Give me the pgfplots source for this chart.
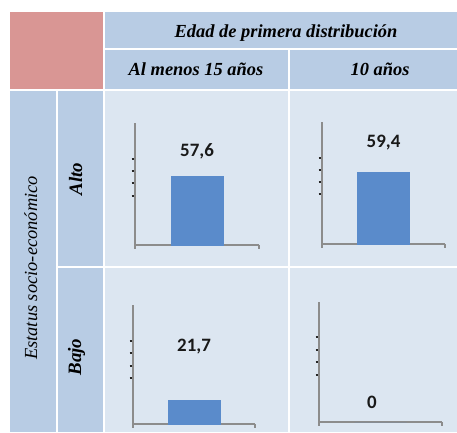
\documentclass[border=0pt]{standalone}
\usepackage{pgfplots}
\pgfplotsset{compat=1.18}
\usepackage{fontspec}
\setmainfont{Liberation Serif}
\newfontfamily\calibri{Carlito}
\definecolor{pinkc}{HTML}{D99694}
\definecolor{hdr}{HTML}{B8CCE4}
\definecolor{cellc}{HTML}{DCE6F1}
\definecolor{barc}{HTML}{5A8BCB}
\definecolor{axc}{HTML}{8C8C8C}
\tikzset{lbl/.style={font=\calibri\bfseries\fontsize{19}{22}\selectfont, text=black!90}}
\pgfplotsset{
  mini/.style={
    anchor=south west, scale only axis,
    xmin=0, xmax=1, ymin=0,
    axis lines=left,
    axis line style={axc, line width=1.5bp, -},
    xtick={0,1}, xticklabels={}, yticklabels={},
    xtick style={axc, line width=1.5bp},
    ytick style={black!85, line width=1.6bp},
    major tick length=3.5bp,
    tick align=outside,
    ybar, bar width=52bp, clip=false,
  },
}
\begin{document}
\begin{tikzpicture}[x=1bp,y=1bp]
\useasboundingbox (0,0) rectangle (457,432);
% table cells
\fill[pinkc] (10,432-12) rectangle (103,432-89);
\fill[hdr] (105,432-12) rectangle (457,432-48);
\fill[hdr] (105,432-50) rectangle (288,432-89);
\fill[hdr] (290,432-50) rectangle (457,432-89);
\fill[hdr] (10,432-91) rectangle (56,0);
\fill[hdr] (58,432-91) rectangle (103,432-266);
\fill[hdr] (58,432-268) rectangle (103,0);
\fill[cellc] (105,432-91) rectangle (288,432-266);
\fill[cellc] (290,432-91) rectangle (457,432-266);
\fill[cellc] (105,432-268) rectangle (288,0);
\fill[cellc] (290,432-268) rectangle (457,0);
% header texts
\node[anchor=base, font=\fontsize{18.5}{20}\selectfont\bfseries\itshape] at (286,432-38) {Edad de primera distribución};
\node[anchor=base, font=\fontsize{18.5}{20}\selectfont\bfseries\itshape] at (196,432-75) {Al menos 15 años};
\node[anchor=base, font=\fontsize{18.5}{20}\selectfont\bfseries\itshape] at (380,432-75) {10 años};
\node[anchor=base, rotate=90, font=\fontsize{18.5}{20}\selectfont\itshape] at (37,432-268) {Estatus socio-económico};
\node[anchor=base, rotate=90, font=\fontsize{19}{20}\selectfont\bfseries\itshape] at (82,432-179) {Alto};
\node[anchor=base, rotate=90, font=\fontsize{19}{20}\selectfont\bfseries\itshape] at (81,432-357) {Bajo};
% Alto, al menos 15
\begin{axis}[mini, at={(135bp,187bp)}, width=124bp, height=122bp, ymax=101.8,
  ytick={40.9,51.7,61.7,71.8}]
\addplot[fill=barc, draw=barc] coordinates {(0.5,57.6)};
\node[lbl] at (axis cs:0.5,78.4) {57,6};
\end{axis}
% Alto, 10
\begin{axis}[mini, at={(322bp,188bp)}, width=123bp, height=122bp, ymax=100.65,
  ytick={41.2,51.2,61.0,71.0}]
\addplot[fill=barc, draw=barc] coordinates {(0.5,59.4)};
\node[lbl] at (axis cs:0.5,83.3) {59,4};
\end{axis}
% Bajo, al menos 15
\begin{axis}[mini, at={(133bp,8bp)}, width=122bp, height=119bp, ymax=109.4,
  ytick={42.3,53.3,65.3,76.3}]
\addplot[fill=barc, draw=barc] coordinates {(0.5,21.7)};
\node[lbl] at (axis cs:0.5,70.8) {21,7};
\end{axis}
% Bajo, 10
\begin{axis}[mini, at={(319bp,10bp)}, width=123bp, height=120bp, ymax=100,
  ytick={39.2,50,60,70.8}]
\addplot[fill=barc, draw=none] coordinates {(0.5,0)};
\node[lbl] at (axis cs:0.43,16.7) {0};
\end{axis}
\end{tikzpicture}
\end{document}
